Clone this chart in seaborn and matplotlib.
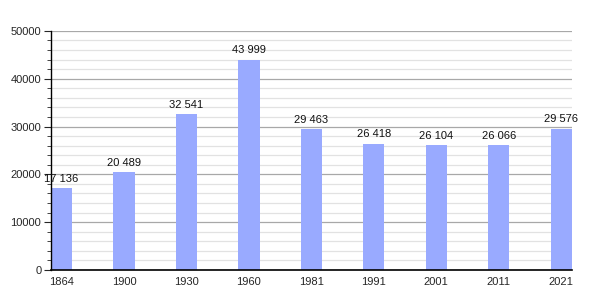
import matplotlib
matplotlib.use("Agg")
import matplotlib.pyplot as plt
import seaborn as sns
import pandas as pd
from matplotlib.ticker import MultipleLocator

years = ["1864", "1900", "1930", "1960", "1981", "1991", "2001", "2011", "2021"]
population = [17136, 20489, 32541, 43999, 29463, 26418, 26104, 26066, 29576]
yticks = [0, 10000, 20000, 30000, 40000, 50000]

df = pd.DataFrame({"year": years, "pop": population})

sns.set_style("white")
plt.rcParams["font.family"] = ["Liberation Sans", "DejaVu Sans"]

fig = plt.figure(figsize=(6, 3), dpi=100)
ax = fig.add_axes([0.085, 0.1, 0.868, 0.797])

ax.yaxis.set_minor_locator(MultipleLocator(2000))
ax.grid(which="major", axis="y", color="#a8a8a8", linewidth=0.9)
ax.grid(which="minor", axis="y", color="#e2e2e2", linewidth=0.9)
ax.set_axisbelow(True)

sns.barplot(data=df, x="year", y="pop", color="#99aaff", saturation=1,
            width=0.34, linewidth=0, ax=ax)

for i, v in enumerate(population):
    ax.text(i, v + 900, f"{v:,}".replace(",", " "), ha="center", va="bottom",
            fontsize=8, color="#111111")

ax.set_xlim(-0.17, 8.17)
ax.set_ylim(0, 50000)
ax.set_yticks(yticks)
ax.set_yticklabels([str(t) for t in yticks])
ax.set_xlabel("")
ax.set_ylabel("")

for s in ["top", "right"]:
    ax.spines[s].set_visible(False)
ax.spines["left"].set_color("black")
ax.spines["bottom"].set_color("black")
ax.spines["left"].set_linewidth(1)
ax.spines["bottom"].set_linewidth(1.2)

ax.tick_params(axis="y", which="major", left=True, length=5, width=0.8,
               labelsize=8, pad=2)
ax.tick_params(axis="y", which="minor", left=True, length=3, width=0.6)
ax.tick_params(axis="x", bottom=False, labelsize=8, pad=1.5)

fig.savefig("out.png", dpi=100)
